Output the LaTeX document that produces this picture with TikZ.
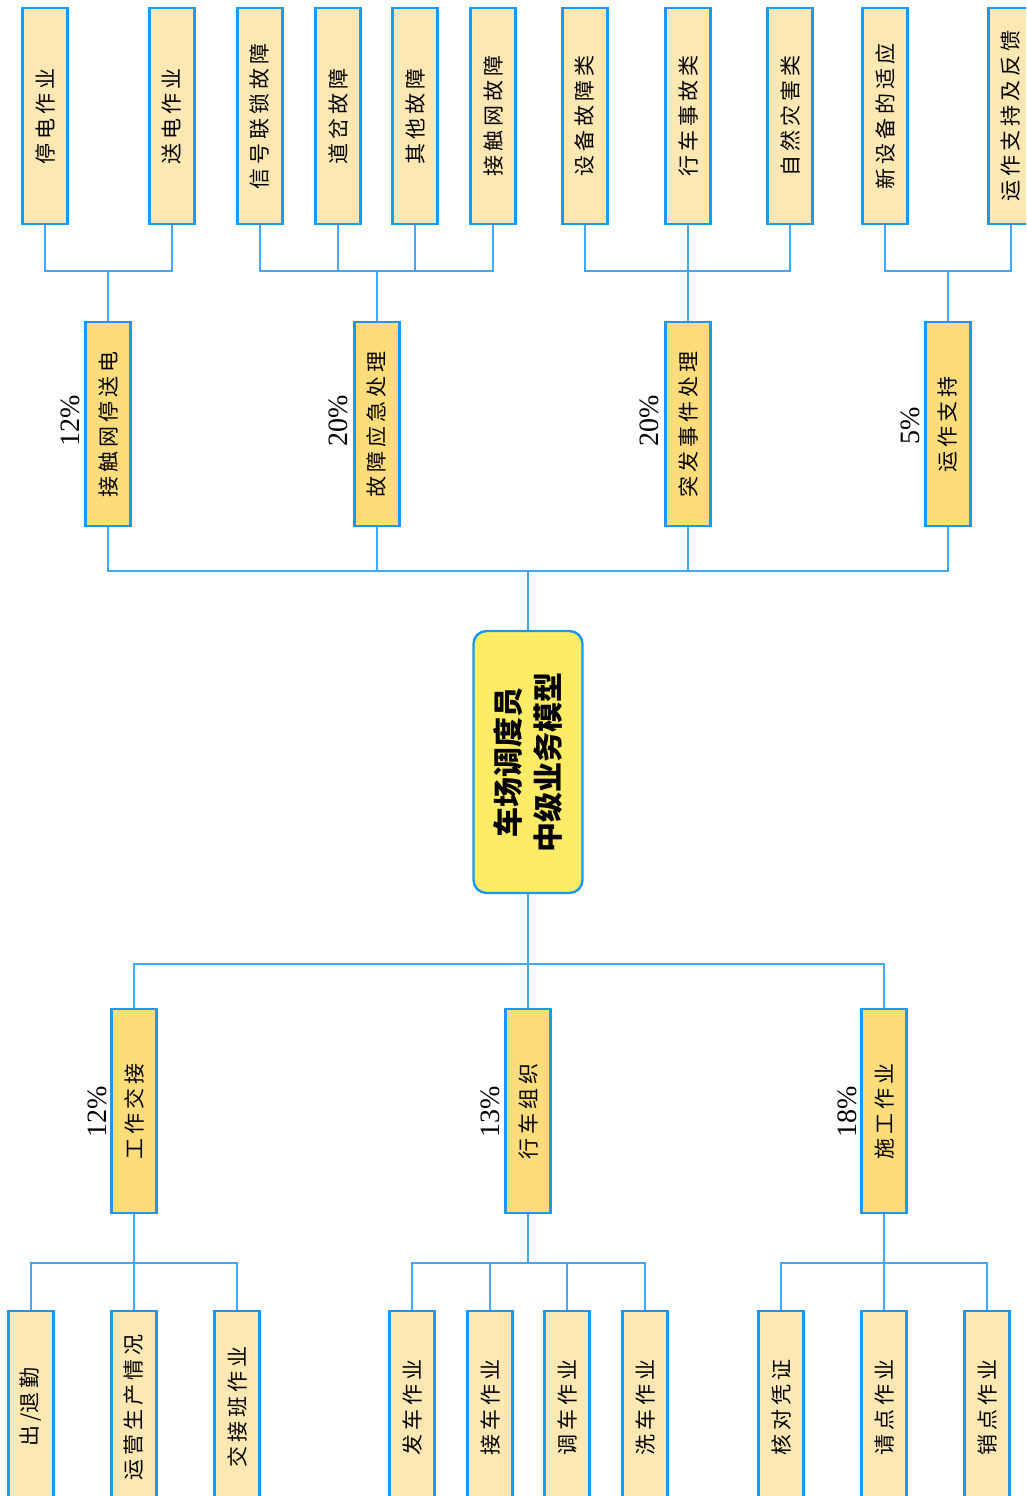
\documentclass[tikz,border=0pt]{standalone}
\usepackage{fontspec}
\newfontfamily\cjk{Noto Sans CJK SC}
\newfontfamily\pctfont{Liberation Serif}
\definecolor{leafcol}{RGB}{253,232,180}
\definecolor{midcol}{RGB}{253,220,124}
\definecolor{centcol}{RGB}{255,236,102}
\definecolor{boxblue}{RGB}{26,152,245}
\definecolor{linecol}{RGB}{66,168,245}
\newcommand\lsp{\hspace{4pt}}
\begin{document}
\begin{tikzpicture}[x=1pt,y=-1pt,
  basebox/.style={rotate=90, draw=boxblue, line width=2.4pt, inner sep=0pt, minimum height=45pt,
    font=\cjk\fontsize{21}{24}\selectfont},
  leafbox/.style={basebox, fill=leafcol, minimum width=216pt},
  leafboxb/.style={basebox, fill=leafcol, minimum width=192pt},
  midbox/.style={basebox, fill=midcol, minimum width=204pt},
  centbox/.style={rotate=90, draw=boxblue, line width=2.4pt, fill=centcol, rounded corners=13pt,
    minimum width=262pt, minimum height=109pt, inner sep=0pt, align=center,
    font=\cjk\bfseries\fontsize{30}{40}\selectfont},
  pct/.style={rotate=90, anchor=west, inner sep=0pt, font=\pctfont\fontsize{28}{30}\selectfont},
  conn/.style={draw=linecol, line width=1.5pt}
]
\useasboundingbox (0,0) rectangle (1026,1496);
\clip (0,0) rectangle (1026,1496);

% centre
\node[centbox] (c) at (528,762) {车场调度员\\中级业务模型};

% upper middle level
\node[midbox] (m1) at (108,424) {接\lsp 触\lsp 网\lsp 停\lsp 送\lsp 电};
\node[midbox] (m2) at (377,424) {故\lsp 障\lsp 应\lsp 急\lsp 处\lsp 理};
\node[midbox] (m3) at (688,424) {突\lsp 发\lsp 事\lsp 件\lsp 处\lsp 理};
\node[midbox] (m4) at (948,424) {运\lsp 作\lsp 支\lsp 持};

\node[pct] (p1) at (70,447) {12\%};
\node[pct] (p2) at (338,447) {20\%};
\node[pct] (p3) at (649,447) {20\%};
\node[pct] (p4) at (910,445) {5\%};

% upper leaves
\node[leafbox] (t1) at (45,116) {停\lsp 电\lsp 作\lsp 业};
\node[leafbox] (t2) at (172,116) {送\lsp 电\lsp 作\lsp 业};
\node[leafbox] (t3) at (260,116) {信\lsp 号\lsp 联\lsp 锁\lsp 故\lsp 障};
\node[leafbox] (t4) at (338,116) {道\lsp 岔\lsp 故\lsp 障};
\node[leafbox] (t5) at (415,116) {其\lsp 他\lsp 故\lsp 障};
\node[leafbox] (t6) at (493,116) {接\lsp 触\lsp 网\lsp 故\lsp 障};
\node[leafbox] (t7) at (585,116) {设\lsp 备\lsp 故\lsp 障\lsp 类};
\node[leafbox] (t8) at (688,116) {行\lsp 车\lsp 事\lsp 故\lsp 类};
\node[leafbox] (t9) at (790,116) {自\lsp 然\lsp 灾\lsp 害\lsp 类};
\node[leafbox] (t10) at (885,116) {新\lsp 设\lsp 备\lsp 的\lsp 适\lsp 应};
\node[leafbox] (t11) at (1011,116) {运\lsp 作\lsp 支\lsp 持\lsp 及\lsp 反\lsp 馈};

% lower middle level
\node[midbox] (b1) at (134,1111) {工\lsp 作\lsp 交\lsp 接};
\node[midbox] (b2) at (528,1111) {行\lsp 车\lsp 组\lsp 织};
\node[midbox] (b3) at (884,1111) {施\lsp 工\lsp 作\lsp 业};

\node[pct] (q1) at (97,1138) {12\%};
\node[pct] (q2) at (490,1138) {13\%};
\node[pct] (q3) at (847,1138) {18\%};

% lower leaves
\node[leafboxb] (l1) at (31,1407) {出\lsp /退\lsp 勤};
\node[leafboxb] (l2) at (134,1407) {运\lsp 营\lsp 生\lsp 产\lsp 情\lsp 况};
\node[leafboxb] (l3) at (237,1407) {交\lsp 接\lsp 班\lsp 作\lsp 业};
\node[leafboxb] (l4) at (412,1407) {发\lsp 车\lsp 作\lsp 业};
\node[leafboxb] (l5) at (490,1407) {接\lsp 车\lsp 作\lsp 业};
\node[leafboxb] (l6) at (567,1407) {调\lsp 车\lsp 作\lsp 业};
\node[leafboxb] (l7) at (645,1407) {洗\lsp 车\lsp 作\lsp 业};
\node[leafboxb] (l8) at (781,1407) {核\lsp 对\lsp 凭\lsp 证};
\node[leafboxb] (l9) at (884,1407) {请\lsp 点\lsp 作\lsp 业};
\node[leafboxb] (l10) at (987,1407) {销\lsp 点\lsp 作\lsp 业};

% connectors: centre to upper middle
\foreach \m in {m1,m2,m3,m4}
  \draw[conn] (c.east) -- ++(0,-59) -| (\m.west);
% centre to lower middle
\foreach \m in {b1,b2,b3}
  \draw[conn] (c.west) -- ++(0,70) -| (\m.east);
% upper middle to leaves
\foreach \t in {t1,t2}
  \draw[conn] (m1.east) -- ++(0,-50) -| (\t.west);
\foreach \t in {t3,t4,t5,t6}
  \draw[conn] (m2.east) -- ++(0,-50) -| (\t.west);
\foreach \t in {t7,t8,t9}
  \draw[conn] (m3.east) -- ++(0,-50) -| (\t.west);
\foreach \t in {t10,t11}
  \draw[conn] (m4.east) -- ++(0,-50) -| (\t.west);
% lower middle to leaves
\foreach \l in {l1,l2,l3}
  \draw[conn] (b1.west) -- ++(0,49) -| (\l.east);
\foreach \l in {l4,l5,l6,l7}
  \draw[conn] (b2.west) -- ++(0,49) -| (\l.east);
\foreach \l in {l8,l9,l10}
  \draw[conn] (b3.west) -- ++(0,49) -| (\l.east);
\end{tikzpicture}
\end{document}
